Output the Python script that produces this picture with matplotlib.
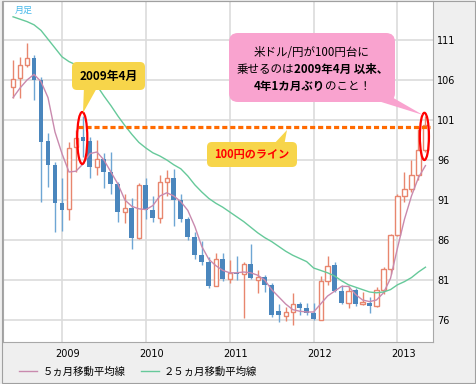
import matplotlib
matplotlib.use('Agg')
import matplotlib.pyplot as plt
import numpy as np
from matplotlib.patches import Ellipse, FancyBboxPatch, Polygon, Rectangle
from matplotlib.transforms import ScaledTranslation

plt.rcParams['font.family'] = ['Noto Sans CJK JP', 'DejaVu Sans']

# 月足 2008/06 - 2013/05
opens = [105.1, 106.2, 107.9, 108.8, 106.0, 98.4, 95.4, 90.6, 89.9, 97.6,
         98.9, 98.4, 95.1, 96.1, 94.5, 93.0, 89.5, 90.0, 86.3, 92.9,
         89.8, 88.8, 93.3, 93.8, 91.0, 88.6, 86.4, 84.1, 83.3, 80.3,
         83.6, 81.1, 81.9, 81.8, 83.0, 81.0, 81.4, 80.4, 77.1, 76.5,
         77.0, 78.0, 77.5, 76.9, 76.0, 80.9, 82.9, 79.6, 78.1, 79.75,
         78.0, 78.1, 77.75, 79.75, 82.4, 86.6, 91.5, 92.4, 94.1, 97.3]
highs = [108.5, 108.9, 110.6, 109.1, 106.4, 99.4, 95.8, 93.7, 98.3, 99.7,
         101.5, 98.9, 98.5, 96.9, 97.0, 93.3, 91.8, 91.2, 93.1, 93.8,
         91.5, 94.1, 94.8, 94.9, 91.7, 88.9, 87.0, 85.9, 83.9, 84.4,
         84.4, 83.5, 84.0, 83.3, 85.5, 82.2, 81.6, 80.6, 78.0, 77.6,
         79.4, 78.3, 78.1, 78.1, 81.5, 84.0, 83.2, 80.4, 80.2, 80.0,
         79.5, 78.9, 80.1, 82.6, 86.8, 91.8, 94.5, 96.0, 99.9, 101.5]
lows = [103.8, 103.8, 107.6, 103.5, 90.8, 92.6, 87.0, 87.1, 88.5, 94.5,
        96.4, 93.8, 94.1, 92.5, 91.7, 88.3, 88.1, 84.9, 86.1, 88.6,
        88.2, 88.1, 91.5, 87.8, 88.2, 86.0, 83.6, 82.9, 80.0, 80.2,
        80.9, 80.6, 81.0, 76.3, 81.1, 79.4, 79.5, 76.4, 75.8, 75.9,
        75.4, 76.6, 76.6, 76.0, 76.0, 80.4, 79.5, 78.0, 77.5, 77.8,
        77.9, 76.9, 77.6, 79.3, 81.8, 86.5, 90.8, 92.0, 93.5, 97.0]
closes = [106.1, 107.9, 108.8, 106.0, 98.3, 95.4, 90.6, 89.8, 97.5, 98.8,
          98.4, 95.1, 96.1, 94.5, 93.0, 89.5, 90.0, 86.3, 92.9, 89.8,
          88.8, 93.3, 93.8, 91.0, 88.6, 86.4, 84.1, 83.3, 80.3, 83.6,
          81.1, 81.9, 81.8, 83.0, 81.2, 81.4, 80.4, 76.6, 76.6, 77.0,
          78.0, 77.5, 76.9, 76.1, 80.9, 82.75, 79.6, 78.1, 79.6, 78.0,
          78.25, 77.75, 79.75, 82.4, 86.6, 91.5, 92.4, 94.1, 97.3, 100.4]

# 移動平均線 (チャートから読み取り)
ma5 = [103.8, 105.0, 106.0, 106.7, 105.8, 103.8, 99.5, 96.8, 94.5, 94.6,
       95.5, 96.8, 97.0, 96.0, 94.5, 93.0, 91.0, 90.2, 89.9, 89.8,
       90.3, 91.5, 91.9, 91.5, 90.8, 89.7, 87.7, 85.2, 83.6, 82.8,
       82.2, 81.9, 81.9, 82.0, 81.9, 81.6, 81.0, 79.8, 78.9, 78.0,
       77.3, 77.1, 77.0, 77.0, 78.0, 79.0, 79.6, 80.2, 80.2, 79.2,
       78.5, 78.3, 78.5, 79.4, 81.2, 85.0, 88.6, 91.5, 93.8, 95.3]
ma25 = [113.9, 113.6, 113.3, 112.9, 112.2, 111.1, 110.0, 108.9, 108.3, 107.9,
        107.1, 106.3, 105.3, 104.0, 102.8, 101.5, 100.3, 99.2, 98.2, 97.5,
        96.9, 96.5, 96.0, 95.4, 94.9, 94.0, 92.9, 92.0, 91.2, 90.6,
        90.1, 89.5, 88.9, 88.3, 87.6, 86.9, 86.3, 85.8, 85.2, 84.6,
        84.1, 83.7, 83.3, 82.5, 82.2, 81.9, 81.5, 80.9, 80.4, 80.1,
        79.8, 79.5, 79.4, 79.5, 79.8, 80.4, 80.8, 81.3, 82.0, 82.6]

year_idx = [7, 19, 31, 43, 55]
year_labels = ['2009', '2010', '2011', '2012', '2013']
yticks = [76, 81, 86, 91, 96, 101, 106, 111]
line_100 = 100.1

W, H = 476, 384
fig = plt.figure(figsize=(W / 100, H / 100), dpi=100, facecolor='#efefef')
ax = fig.add_axes([2.5 / W, 1 - 342 / H, (433 - 2.5) / W, (342 - 1) / H])
ax.set_facecolor('white')

o = np.array(opens); h = np.array(highs); l = np.array(lows); c = np.array(closes)
x = np.arange(len(o))
up = c >= o

bull = '#e8866e'
bear = '#4a86bd'
bear_wick = '#6ea6d4'

ax.vlines(x[up], l[up], h[up], color=bull, lw=1, zorder=2)
ax.vlines(x[~up], l[~up], h[~up], color=bear_wick, lw=1, zorder=2)
ax.bar(x[up], c[up] - o[up], bottom=o[up], width=0.6, facecolor='white',
       edgecolor=bull, lw=1, zorder=3)
ax.bar(x[~up], o[~up] - c[~up], bottom=c[~up], width=0.7, color=bear, zorder=3)

l5, = ax.plot(x, ma5, color='#c98aae', lw=1, zorder=4, label='５ヵ月移動平均線')
l25, = ax.plot(x, ma25, color='#66c99a', lw=1, zorder=4, label='２５ヵ月移動平均線')

# 100円のライン
ax.hlines(line_100, 9.3, 59.65, colors='#ff6a00', lw=2.3,
          linestyles=(0, (1.6, 0.9)), zorder=5)
ax.add_patch(Ellipse((9.9, 98.75), 1.45, 6.5, fill=False, ec='red', lw=1.6, zorder=6))
ax.add_patch(Ellipse((58.85, 98.95), 1.3, 5.9, fill=False, ec='red', lw=1.6, zorder=6))

ax.set_xlim(-1.51, 60.08)
ax.set_ylim(73.25, 115.875)
ax.yaxis.tick_right()
ax.set_yticks(yticks)
ax.tick_params(axis='y', length=0, pad=3, labelsize=7, labelfontfamily='DejaVu Sans')
ax.set_xticks(year_idx)
ax.set_xticklabels(year_labels)
ax.tick_params(axis='x', length=0, pad=5, labelsize=7, labelfontfamily='DejaVu Sans')
for lbl in ax.get_xticklabels():
    lbl.set_transform(lbl.get_transform() + ScaledTranslation(6 / 100, 0, fig.dpi_scale_trans))
ax.grid(True, color='#dcdcdc', lw=1.2)
ax.set_axisbelow(True)
for s in ax.spines.values():
    s.set_color('#a8a8a8')
    s.set_linewidth(0.8)

fig.legend(handles=[l5, l25], loc='center left', bbox_to_anchor=(10 / W, 1 - 372 / H),
           ncol=2, frameon=False, fontsize=7.5, handlelength=1.7,
           handletextpad=0.5, columnspacing=1.5)

# ピクセル座標の重ね描き用
ov = fig.add_axes([0, 0, 1, 1])
ov.set_xlim(0, W)
ov.set_ylim(H, 0)
ov.axis('off')
ov.patch.set_alpha(0)

ov.add_patch(Rectangle((1.5, 0.5), 473, 382, fill=False, ec='#a0a0a0', lw=0.8))
ov.text(15, 10, '月足', fontsize=6.5, color='#45b8ea', ha='left', va='center')

yellow = '#f7d54a'
ov.add_patch(Polygon([(84, 86), (98, 86), (83, 113)], closed=True, fc=yellow, ec='none'))
ov.add_patch(FancyBboxPatch((72, 62), 73, 28, boxstyle='round,pad=0,rounding_size=5',
                            fc=yellow, ec='none'))
ov.text(108.5, 76, '2009年4月', ha='center', va='center', fontsize=8.5, fontweight='bold')

ov.add_patch(Polygon([(272, 146), (284, 146), (287, 130)], closed=True, fc=yellow, ec='none'))
ov.add_patch(FancyBboxPatch((207, 142), 90, 25, boxstyle='round,pad=0,rounding_size=5',
                            fc=yellow, ec='none'))
ov.text(252, 154.5, '100円のライン', ha='center', va='center', fontsize=8,
        fontweight='bold', color='#ff0000')

pink = '#f9a3cf'
ov.add_patch(Polygon([(362, 96), (390, 96), (423, 115)], closed=True, fc=pink, ec='none'))
ov.add_patch(FancyBboxPatch((229, 33), 166, 69, boxstyle='round,pad=0,rounding_size=9',
                            fc=pink, ec='none'))


def mixed_line(cx, cy, parts, size=8.3):
    texts = [ov.text(0, cy, s, fontsize=size, fontweight=w, ha='left', va='center')
             for s, w in parts]
    fig.canvas.draw()
    r = fig.canvas.get_renderer()
    widths = [t.get_window_extent(r).width for t in texts]
    xx = cx - sum(widths) / 2
    for t, wd in zip(texts, widths):
        t.set_x(xx)
        xx += wd


mixed_line(312, 52, [('米ドル/円が100円台に', 'normal')])
mixed_line(312, 69.5, [('乗せるのは', 'normal'), ('2009年4月 以来、', 'bold')])
mixed_line(312, 86, [('4年1カ月ぶり', 'bold'), ('のこと！', 'normal')])

fig.savefig('out.png', dpi=100, facecolor=fig.get_facecolor())
